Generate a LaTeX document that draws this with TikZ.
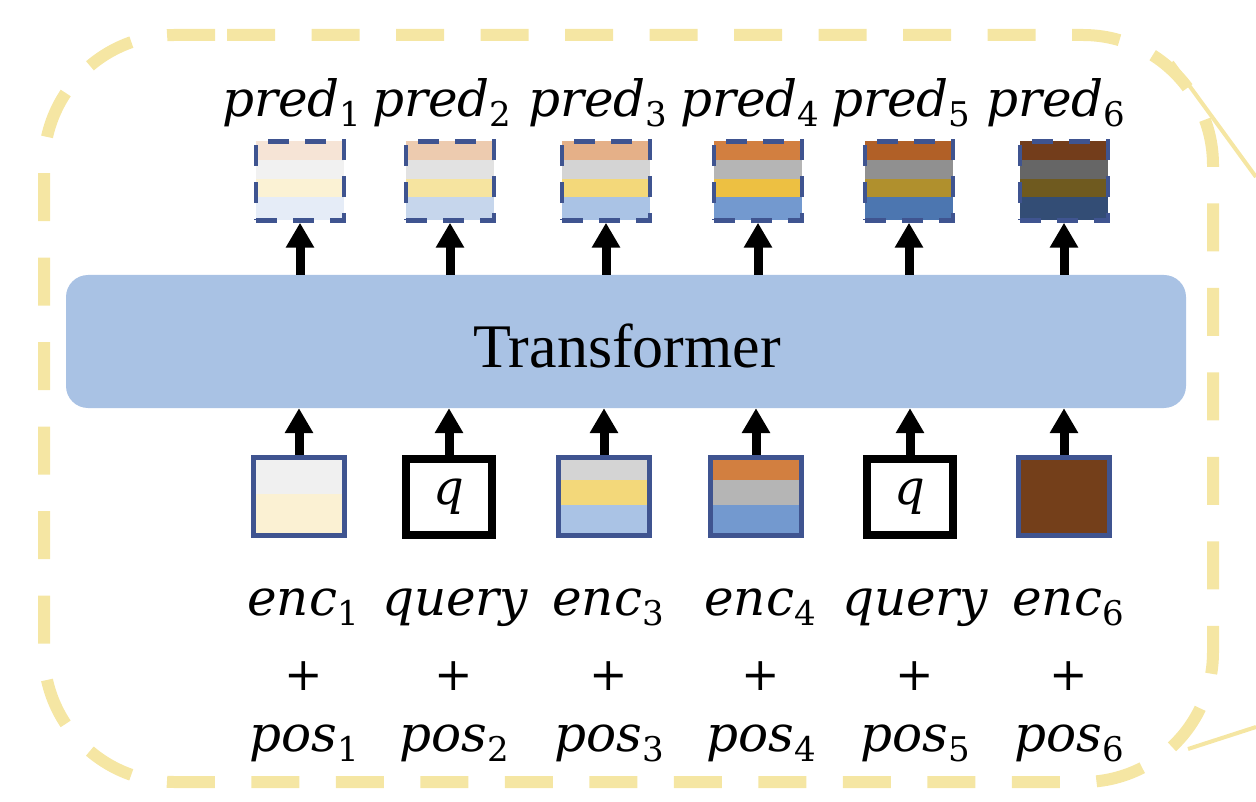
\documentclass[tikz,border=0pt]{standalone}
\usepackage{fontspec}
\newfontfamily\tfont{Liberation Serif}
\newfontfamily\lfont{DejaVu Serif}
\newcommand\lbl[2]{{\lfont\fontsize{50}{56}\selectfont\itshape #1\upshape\raisebox{-10pt}{\fontsize{34}{38}\selectfont #2}}}
\usetikzlibrary{arrows.meta,calc}
\definecolor{frameY}{HTML}{F5E6A3}
\definecolor{edgeB}{HTML}{3F5490}
\definecolor{tfill}{HTML}{A9C2E4}
\definecolor{pa1}{HTML}{F6E4D6}\definecolor{pb1}{HTML}{F1F1F1}\definecolor{pc1}{HTML}{FBF2D4}\definecolor{pd1}{HTML}{E5ECF7}
\definecolor{pa2}{HTML}{EDCBAF}\definecolor{pb2}{HTML}{E2E2E2}\definecolor{pc2}{HTML}{F6E4A0}\definecolor{pd2}{HTML}{C6D6EC}
\definecolor{pa3}{HTML}{E5B088}\definecolor{pb3}{HTML}{D4D4D4}\definecolor{pc3}{HTML}{F3D87A}\definecolor{pd3}{HTML}{AAC3E5}
\definecolor{pa4}{HTML}{D27F40}\definecolor{pb4}{HTML}{B5B5B5}\definecolor{pc4}{HTML}{EDC042}\definecolor{pd4}{HTML}{7399CF}
\definecolor{pa5}{HTML}{B16027}\definecolor{pb5}{HTML}{909090}\definecolor{pc5}{HTML}{B0902D}\definecolor{pd5}{HTML}{4C76B0}
\definecolor{pa6}{HTML}{733D1B}\definecolor{pb6}{HTML}{666666}\definecolor{pc6}{HTML}{6F5A1F}\definecolor{pd6}{HTML}{334D75}
\definecolor{ia1}{HTML}{F0F0F0}\definecolor{ib1}{HTML}{FBF1D3}
\definecolor{ia3}{HTML}{D4D4D4}\definecolor{ib3}{HTML}{F3D87A}\definecolor{ic3}{HTML}{AAC3E5}
\definecolor{ia4}{HTML}{D27F40}\definecolor{ib4}{HTML}{B5B5B5}\definecolor{ic4}{HTML}{7399CF}
\definecolor{ia6}{HTML}{743F1A}
\tikzset{
  stripes/.style={path picture={\foreach \c/\a/\b in {#1}{\fill[\c] ($(path picture bounding box.north west)!\a!(path picture bounding box.south west)$) rectangle ($(path picture bounding box.north east)!\b!(path picture bounding box.south east)$);}}},
  predbox/.style={minimum width=88pt,minimum height=79pt,inner sep=0pt,draw=edgeB,line width=4.5pt,dash pattern=on 21pt off 16pt},
  inbox/.style={minimum width=91pt,minimum height=78pt,inner sep=0pt,draw=edgeB,line width=5pt},
  qbox/.style={minimum width=86pt,minimum height=76pt,inner sep=0pt,draw=black,line width=8pt,font=\lfont\itshape\fontsize{48}{54}\selectfont},
  tbox/.style={minimum width=1120pt,minimum height=133pt,inner sep=0pt,fill=tfill,rounded corners=22pt},
  arr/.style={line width=9pt,-{Triangle[width=27pt,length=25pt]}},
  lab/.style={inner sep=0pt,anchor=base},
  frame/.style={draw=frameY,line width=12pt,dash pattern=on 48pt off 36.5pt,rounded corners=130pt}
}
\begin{document}
\begin{tikzpicture}[x=1pt,y=-1pt]
\useasboundingbox (0,0) rectangle (1256,802);
% side lines
\coordinate (ta) at (1172,62); \coordinate (tb) at (1256,177);
\coordinate (ba) at (1188,749); \coordinate (bb) at (1256,727);
\draw[frameY,line width=4pt] (ta) -- (tb);
\draw[frameY,line width=4pt] (ba) -- (bb);
\draw[frame] (227,35) -- (1213,35) -- (1213,782) -- (44,782) -- (44,35) -- (227,35);
% transformer
\node[tbox] (T) at (626,341.5) {};
\node[inner sep=0pt,anchor=base,font=\tfont\fontsize{62}{68}\selectfont] (Tl) at (627,367) {Transformer};
% prediction boxes
\node[predbox,stripes={pa1/0/.24,pb1/.24/.47,pc1/.47/.7,pd1/.7/1}] (p1) at (300,181) {};
\node[predbox,stripes={pa2/0/.24,pb2/.24/.47,pc2/.47/.7,pd2/.7/1}] (p2) at (450,181) {};
\node[predbox,stripes={pa3/0/.24,pb3/.24/.47,pc3/.47/.7,pd3/.7/1}] (p3) at (606,181) {};
\node[predbox,stripes={pa4/0/.24,pb4/.24/.47,pc4/.47/.7,pd4/.7/1}] (p4) at (758,181) {};
\node[predbox,stripes={pa5/0/.24,pb5/.24/.47,pc5/.47/.7,pd5/.7/1}] (p5) at (909,181) {};
\node[predbox,stripes={pa6/0/.24,pb6/.24/.47,pc6/.47/.7,pd6/.7/1}] (p6) at (1064,181) {};
% input boxes
\node[inbox,stripes={ia1/0/.48,ib1/.48/1}] (i1) at (299,496) {};
\node[qbox] (i2) at (449,497) {q};
\node[inbox,stripes={ia3/0/.3,ib3/.3/.62,ic3/.62/1}] (i3) at (604,496) {};
\node[inbox,stripes={ia4/0/.3,ib4/.3/.62,ic4/.62/1}] (i4) at (756,496) {};
\node[qbox] (i5) at (910,497) {q};
\node[inbox,fill=ia6] (i6) at (1064,496) {};
% arrows
\foreach \k in {1,...,6}{
  \draw[arr] (T.north -| p\k.south) -- (p\k.south);
  \draw[arr] (i\k.north) -- (i\k.north |- T.south);
}
% labels
\foreach \k/\x in {1/300,2/450,3/606,4/758,5/909,6/1064}{
  \node[lab] (pl\k) at (\x-8,117) {\lbl{pred}{\k}};
}
\node[lab] (e1) at (303,615) {\lbl{enc}{1}};
\node[lab] (e2) at (455,615) {\lbl{query}{}};
\node[lab] (e3) at (608,615) {\lbl{enc}{3}};
\node[lab] (e4) at (760,615) {\lbl{enc}{4}};
\node[lab] (e5) at (915,615) {\lbl{query}{}};
\node[lab] (e6) at (1068,615) {\lbl{enc}{6}};
\foreach \k/\x in {1/299,2/449,3/604,4/756,5/910,6/1064}{
  \node[inner sep=0pt,font=\lfont\fontsize{46}{50}\selectfont] (plus\k) at (\x+5,676) {+};
  \node[lab] (q\k) at (\x+5,751) {\lbl{pos}{\k}};
}
\end{tikzpicture}
\end{document}
